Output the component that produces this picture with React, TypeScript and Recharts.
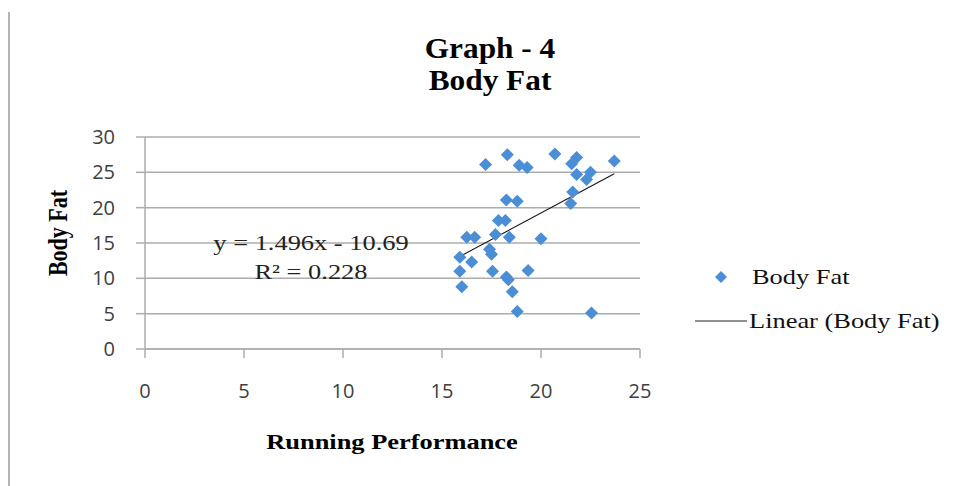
import React from "react";
import {
  CartesianGrid,
  ReferenceLine,
  Scatter,
  ScatterChart,
  XAxis,
  YAxis,
} from "recharts";

// Running performance (x) vs body fat (y).
const runningPerformance = [
  17.2, 18.3, 18.9, 19.3, 20.7, 21.8, 21.55, 21.8, 22.5, 22.3, 23.7, 21.6,
  21.5, 18.25, 18.8, 17.85, 18.2, 17.7, 18.4, 20.0, 16.25, 16.65, 15.9, 16.5,
  17.4, 17.5, 15.9, 17.55, 18.25, 18.35, 19.35, 16.0, 18.55, 18.8, 22.55,
];
const bodyFat = [
  26.1, 27.5, 26.0, 25.7, 27.6, 27.1, 26.2, 24.7, 25.0, 24.0, 26.6, 22.2,
  20.6, 21.1, 20.9, 18.2, 18.2, 16.2, 15.8, 15.6, 15.8, 15.8, 13.0, 12.3,
  14.1, 13.4, 11.0, 11.0, 10.2, 9.8, 11.1, 8.8, 8.1, 5.3, 5.1,
];

// endpoints of the linear trend line (y = 1.496x - 10.69)
const trendX = [15.9, 23.7];
const trendY = [13.1, 24.8];

const xTicks = [0, 5, 10, 15, 20, 25];
const yTicks = [0, 5, 10, 15, 20, 25, 30];

const points = runningPerformance.map((x, i) => ({ x, y: bodyFat[i] }));

const BLUE = "#4a8fd6";
const GRID = "#acacac";
const SERIF = "'Liberation Serif', 'Times New Roman', serif";
const SANS = "'Open Sans', 'Liberation Sans', sans-serif";

function Diamond(props: any) {
  const { cx, cy } = props;
  const r = 6.5;
  return (
    <polygon
      points={`${cx},${cy - r} ${cx + r},${cy} ${cx},${cy + r} ${cx - r},${cy}`}
      fill={BLUE}
    />
  );
}

const tickStyle = { fill: "#404040", fontSize: 20, fontFamily: SANS };

export default function App() {
  return (
    <div
      style={{
        position: "absolute",
        left: 0,
        top: 0,
        width: 963,
        height: 486,
        background: "#fff",
        overflow: "hidden",
      }}
    >
      {/* left frame edge */}
      <div
        style={{
          position: "absolute",
          left: 8,
          top: 12,
          width: 2,
          height: 474,
          background: "#b4b4b4",
        }}
      />
      <div
        style={{
          position: "absolute",
          left: 0,
          top: 32,
          width: 980,
          textAlign: "center",
          fontFamily: SERIF,
          fontWeight: "bold",
          fontSize: 29,
          lineHeight: "32px",
          transform: "scaleX(1.08)",
          transformOrigin: "490px 0",
        }}
      >
        Graph - 4
        <br />
        Body Fat
      </div>

      <ScatterChart
        width={963}
        height={486}
        margin={{ top: 137, right: 323, bottom: 77, left: 85 }}
      >
        <CartesianGrid
          vertical={false}
          stroke={GRID}
          strokeWidth={1.5}
          horizontalValues={yTicks}
        />
        <XAxis
          type="number"
          dataKey="x"
          domain={[0, 25]}
          ticks={xTicks}
          height={60}
          tickSize={9}
          tickMargin={26}
          tick={tickStyle}
          axisLine={{ stroke: GRID, strokeWidth: 1.5 }}
          tickLine={{ stroke: GRID, strokeWidth: 1.5 }}
        />
        <YAxis
          type="number"
          dataKey="y"
          domain={[0, 30]}
          ticks={yTicks}
          width={60}
          tickSize={9}
          tickMargin={21}
          tick={tickStyle}
          axisLine={{ stroke: GRID, strokeWidth: 1.5 }}
          tickLine={{ stroke: GRID, strokeWidth: 1.5 }}
        />
        <Scatter
          name="Body Fat"
          data={points}
          fill={BLUE}
          shape={Diamond}
          isAnimationActive={false}
        />
        <ReferenceLine
          segment={[
            { x: trendX[0], y: trendY[0] },
            { x: trendX[1], y: trendY[1] },
          ]}
          stroke="#1a1a1a"
          strokeWidth={1.2}
        />
      </ScatterChart>

      {/* trend line equation */}
      <div
        style={{
          position: "absolute",
          left: 211,
          top: 228,
          width: 200,
          textAlign: "center",
          fontFamily: SERIF,
          fontSize: 22,
          lineHeight: "29px",
          color: "#222",
          transform: "scaleX(1.2)",
          transformOrigin: "100px 0",
        }}
      >
        y = 1.496x - 10.69
        <br />
        R² = 0.228
      </div>

      {/* axis titles */}
      <div
        style={{
          position: "absolute",
          left: 192,
          top: 428,
          width: 400,
          textAlign: "center",
          fontFamily: SERIF,
          fontWeight: "bold",
          fontSize: 22,
          lineHeight: "28px",
          transform: "scaleX(1.2)",
          transformOrigin: "200px 0",
        }}
      >
        Running Performance
      </div>
      <div
        style={{
          position: "absolute",
          left: 58 - 60,
          top: 233 - 14,
          width: 120,
          textAlign: "center",
          fontFamily: SERIF,
          fontWeight: "bold",
          fontSize: 22,
          lineHeight: "28px",
          transform: "rotate(-90deg) scaleY(1.25)",
          transformOrigin: "60px 14px",
        }}
      >
        Body Fat
      </div>

      {/* legend */}
      <div
        style={{
          position: "absolute",
          left: 693,
          top: 262,
          fontFamily: SERIF,
          fontSize: 22,
          color: "#111",
        }}
      >
        <div style={{ display: "flex", alignItems: "center", height: 30 }}>
          <svg width={56} height={30}>
            <polygon points="28,9 34,15 28,21 22,15" fill={BLUE} />
          </svg>
          <span
            style={{
              display: "inline-block",
              transform: "scaleX(1.2)",
              transformOrigin: "0 50%",
              marginLeft: 3,
            }}
          >
            Body Fat
          </span>
        </div>
        <div
          style={{
            display: "flex",
            alignItems: "center",
            height: 30,
            marginTop: 14,
          }}
        >
          <svg width={56} height={30}>
            <line x1={2} y1={15} x2={54} y2={15} stroke="#222" strokeWidth={1.2} />
          </svg>
          <span
            style={{
              display: "inline-block",
              transform: "scaleX(1.2)",
              transformOrigin: "0 50%",
            }}
          >
            Linear (Body Fat)
          </span>
        </div>
      </div>
    </div>
  );
}
